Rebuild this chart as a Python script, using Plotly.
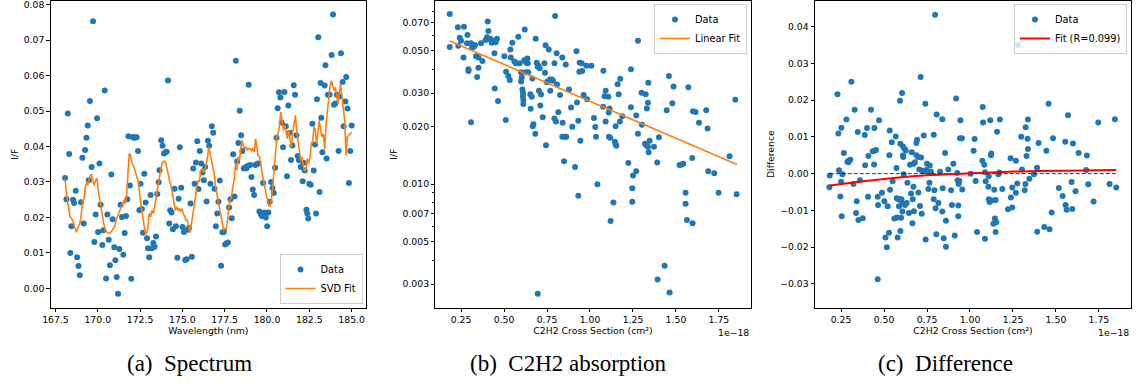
import plotly.graph_objects as go

# ---------------- Panel (a): Spectrum ----------------
wavelength_a = [
    168.07,168.15,168.23,168.31,168.38,168.44,168.54,168.60,168.70,168.78,
    168.86,168.94,169.01,169.09,169.17,169.25,169.33,169.41,169.47,169.54,
    169.64,169.72,169.80,169.88,169.96,170.02,170.10,170.17,170.27,170.33,
    170.41,170.49,170.57,170.65,170.72,170.80,170.88,170.98,171.04,171.12,
    171.20,171.28,171.35,171.43,171.51,171.59,171.67,171.75,171.81,171.90,
    171.98,172.06,172.14,172.22,172.30,172.38,172.46,172.53,172.61,172.67,
    172.75,172.83,172.91,172.97,173.04,173.12,173.20,173.28,173.36,173.44,
    173.52,173.60,173.65,173.75,173.83,173.91,173.99,174.07,174.15,174.22,
    174.28,174.36,174.44,174.54,174.62,174.70,174.78,174.85,174.93,175.01,
    175.09,175.17,175.25,175.33,175.40,175.48,175.56,175.64,175.72,175.80,
    175.88,175.95,176.03,176.11,176.19,176.27,176.35,176.43,176.51,176.58,
    176.66,176.74,176.82,176.90,176.98,177.06,177.13,177.21,177.29,177.37,
    177.45,177.53,177.61,177.69,177.76,177.84,177.92,178.00,178.08,178.16,
    178.24,178.31,178.39,178.47,178.55,178.63,178.71,178.79,178.85,178.92,
    179.00,179.08,179.16,179.24,179.32,179.40,179.47,179.55,179.63,179.69,
    179.77,179.85,179.93,180.01,180.08,180.16,180.24,180.32,180.40,180.48,
    180.56,180.63,180.71,180.79,180.87,180.95,181.03,181.11,181.18,181.26,
    181.34,181.42,181.50,181.58,181.66,181.74,181.81,181.89,181.99,182.11,
    182.15,182.23,182.33,182.38,182.44,182.50,182.58,182.68,182.76,182.84,
    182.90,182.95,183.03,183.11,183.17,183.21,183.27,183.41,183.45,183.52,
    183.60,183.70,183.82,183.90,183.96,184.04,184.13,184.23,184.29,184.37,
    184.47,184.53,184.63,184.68,184.76,184.84,184.92,185.00]
if_a = [
    0.0311,0.0251,0.0493,0.0379,0.0100,0.0175,0.0250,0.0241,0.0275,0.0088,
    0.0063,0.0037,0.0243,0.0368,0.0183,0.0390,0.0425,0.0459,0.0305,0.0528,
    0.0342,0.0753,0.0131,0.0208,0.0480,0.0159,0.0352,0.0236,0.0122,0.0164,
    0.0558,0.0028,0.0208,0.0137,0.0065,0.0321,0.0195,0.0116,0.0079,0.0032,
    -0.0015,0.0111,0.0236,0.0201,0.0095,0.0156,0.0204,0.0251,0.0429,0.0290,
    0.0027,0.0427,0.0425,0.0426,0.0426,0.0387,0.0220,0.0295,0.0224,0.0157,
    0.0323,0.0242,0.0141,0.0113,0.0088,0.0263,0.0113,0.0128,0.0117,0.0146,
    0.0266,0.0299,0.0333,0.0418,0.0402,0.0380,0.0383,0.0385,0.0586,0.0183,
    0.0220,0.0214,0.0167,0.0281,0.0175,0.0086,0.0253,0.0398,0.0284,0.0173,
    0.0159,0.0080,0.0082,0.0165,0.0171,0.0239,0.0089,0.0338,0.0295,0.0355,
    0.0415,0.0280,0.0387,0.0352,0.0327,0.0305,0.0342,0.0245,0.0416,0.0402,
    0.0295,0.0457,0.0439,0.0281,0.0175,0.0211,0.0244,0.0304,0.0064,0.0158,
    0.0159,0.0124,0.0127,0.0129,0.0228,0.0251,0.0198,0.0378,0.0259,0.0642,
    0.0358,0.0410,0.0501,0.0432,0.0387,0.0338,0.0341,0.0339,0.0345,0.0574,
    0.0348,0.0314,0.0279,0.0263,0.0348,0.0351,0.0352,0.0217,0.0210,0.0204,
    0.0297,0.0214,0.0200,0.0175,0.0214,0.0244,0.0300,0.0283,0.0269,0.0340,
    0.0425,0.0508,0.0553,0.0538,0.0467,0.0398,0.0554,0.0457,0.0316,0.0516,
    0.0439,0.0362,0.0403,0.0573,0.0546,0.0432,0.0373,0.0361,0.0342,0.0302,
    0.0354,0.0332,0.0222,0.0211,0.0197,0.0295,0.0292,0.0464,0.0332,0.0406,
    0.0211,0.0533,0.0708,0.0272,0.0579,0.0481,0.0384,0.0572,0.0629,0.0366,
    0.0546,0.0546,0.0658,0.0772,0.0518,0.0521,0.0546,0.0387,0.0542,0.0663,
    0.0582,0.0457,0.0527,0.0596,0.0507,0.0297,0.0387,0.0459]

fit_wl_a = [
    168.07,168.15,168.27,168.37,168.52,168.66,168.74,168.86,168.96,169.03,
    169.11,169.19,169.27,169.35,169.41,169.51,169.62,169.70,169.78,169.88,
    169.96,170.04,170.12,170.19,170.27,170.35,170.45,170.57,170.72,170.88,
    171.00,171.08,171.22,171.35,171.45,171.55,171.63,171.71,171.79,171.86,
    171.94,172.02,172.14,172.26,172.34,172.42,172.49,172.57,172.65,172.73,
    172.81,172.89,172.97,173.04,173.12,173.20,173.28,173.36,173.44,173.52,
    173.60,173.67,173.75,173.83,173.95,174.03,174.11,174.19,174.26,174.34,
    174.42,174.50,174.58,174.66,174.74,174.81,174.89,174.97,175.05,175.15,
    175.21,175.29,175.38,175.46,175.54,175.62,175.70,175.78,175.86,175.94,
    176.01,176.09,176.17,176.25,176.33,176.41,176.49,176.56,176.64,176.72,
    176.80,176.88,176.96,177.04,177.11,177.19,177.27,177.35,177.43,177.51,
    177.59,177.67,177.74,177.82,177.90,177.98,178.06,178.14,178.22,178.29,
    178.37,178.45,178.53,178.61,178.69,178.77,178.85,178.92,179.00,179.08,
    179.16,179.24,179.32,179.40,179.47,179.55,179.63,179.71,179.79,179.87,
    179.95,180.02,180.10,180.18,180.26,180.34,180.42,180.50,180.58,180.65,
    180.73,180.81,180.89,180.97,181.05,181.13,181.20,181.28,181.36,181.44,
    181.52,181.60,181.68,181.75,181.83,181.91,181.99,182.07,182.15,182.23,
    182.31,182.38,182.46,182.54,182.62,182.70,182.78,182.86,182.93,183.01,
    183.09,183.17,183.25,183.33,183.41,183.49,183.56,183.64,183.72,183.80,
    183.88,183.96,184.04,184.11,184.19,184.27,184.35,184.43,184.51,184.59,
    184.67,184.74,184.82,184.90,185.00]
fit_if_a = [
    0.0310,0.0267,0.0230,0.0202,0.0192,0.0174,0.0158,0.0174,0.0187,0.0211,
    0.0249,0.0253,0.0286,0.0300,0.0291,0.0314,0.0322,0.0305,0.0291,0.0305,
    0.0310,0.0272,0.0249,0.0230,0.0202,0.0183,0.0164,0.0157,0.0155,0.0164,
    0.0174,0.0192,0.0211,0.0225,0.0237,0.0249,0.0239,0.0267,0.0324,0.0380,
    0.0375,0.0352,0.0342,0.0324,0.0314,0.0297,0.0258,0.0230,0.0202,0.0174,
    0.0155,0.0155,0.0174,0.0211,0.0202,0.0220,0.0211,0.0230,0.0249,0.0277,
    0.0300,0.0324,0.0342,0.0356,0.0359,0.0352,0.0333,0.0310,0.0300,0.0286,
    0.0267,0.0249,0.0220,0.0230,0.0220,0.0225,0.0216,0.0225,0.0211,0.0202,
    0.0192,0.0192,0.0174,0.0157,0.0183,0.0211,0.0230,0.0263,0.0286,0.0305,
    0.0300,0.0333,0.0338,0.0328,0.0333,0.0352,0.0370,0.0399,0.0380,0.0352,
    0.0342,0.0324,0.0286,0.0267,0.0249,0.0230,0.0211,0.0192,0.0166,0.0169,
    0.0166,0.0192,0.0230,0.0249,0.0258,0.0286,0.0305,0.0352,0.0333,0.0370,
    0.0361,0.0394,0.0417,0.0399,0.0394,0.0399,0.0389,0.0394,0.0394,0.0389,
    0.0394,0.0385,0.0422,0.0399,0.0375,0.0371,0.0356,0.0324,0.0300,0.0286,
    0.0267,0.0249,0.0234,0.0232,0.0249,0.0286,0.0342,0.0389,0.0427,0.0436,
    0.0455,0.0497,0.0474,0.0446,0.0460,0.0436,0.0422,0.0446,0.0427,0.0399,
    0.0441,0.0464,0.0488,0.0446,0.0417,0.0380,0.0361,0.0370,0.0342,0.0331,
    0.0338,0.0366,0.0352,0.0370,0.0408,0.0417,0.0455,0.0446,0.0408,0.0441,
    0.0474,0.0446,0.0427,0.0436,0.0391,0.0464,0.0502,0.0530,0.0567,0.0586,
    0.0572,0.0558,0.0567,0.0549,0.0521,0.0549,0.0577,0.0539,0.0502,0.0474,
    0.0375,0.0427,0.0431,0.0436,0.0440]

# ---------------- Panel (b): C2H2 absorption ----------------
xsec_b = [
    0.184,0.184,0.231,0.267,0.242,0.250,0.234,0.264,0.287,0.285,
    0.308,0.314,0.324,0.331,0.337,0.351,0.366,0.374,0.393,0.401,
    0.405,0.409,0.415,0.421,0.428,0.438,0.452,0.459,0.293,0.293,
    0.351,0.343,0.308,0.444,0.446,0.465,0.502,0.510,0.512,0.525,
    0.533,0.537,0.539,0.548,0.560,0.568,0.583,0.591,0.599,0.599,
    0.603,0.607,0.610,0.610,0.612,0.612,0.618,0.620,0.626,0.630,
    0.636,0.626,0.638,0.641,0.653,0.655,0.661,0.665,0.667,0.671,
    0.684,0.682,0.690,0.696,0.700,0.707,0.703,0.715,0.711,0.725,
    0.735,0.738,0.742,0.750,0.754,0.760,0.769,0.767,0.777,0.785,
    0.744,0.793,0.797,0.793,0.802,0.806,0.808,0.816,0.826,0.839,
    0.841,0.839,0.849,0.855,0.859,0.862,0.878,0.890,0.897,0.913,
    0.921,0.924,0.932,0.932,0.938,0.940,0.944,0.952,0.955,0.696,
    0.963,0.979,0.983,1.008,1.023,1.031,1.035,1.043,1.076,1.078,
    1.085,1.091,1.091,1.107,1.109,1.110,1.114,1.118,1.120,1.136,
    1.145,1.149,1.153,1.149,1.161,1.167,1.174,1.176,1.188,1.223,
    1.238,1.238,1.246,1.246,1.250,1.269,1.269,1.279,1.279,1.300,
    1.302,1.320,1.324,1.328,1.331,1.337,1.337,1.339,1.347,1.341,
    1.372,1.391,1.393,1.401,1.434,1.446,1.459,1.463,1.479,1.486,
    1.521,1.533,1.543,1.556,1.556,1.564,1.572,1.595,1.599,1.614,
    1.634,1.676,1.684,1.688,1.723,1.748,1.812,1.845,1.853,1.597]
if_b = [
    0.0777,0.0522,0.0662,0.0667,0.0584,0.0563,0.0531,0.0461,0.0603,0.0546,
    0.0546,0.0520,0.0524,0.0535,0.0468,0.0461,0.0546,0.0441,0.0568,0.0587,
    0.0711,0.0633,0.0573,0.0577,0.0550,0.0561,0.0554,0.0577,0.0400,0.0391,
    0.0407,0.0364,0.0211,0.0484,0.0317,0.0273,0.0468,0.0217,0.0388,0.0368,
    0.0351,0.0507,0.0461,0.0550,0.0439,0.0429,0.0591,0.0429,0.0386,0.0345,
    0.0362,0.0313,0.0301,0.0289,0.0276,0.0263,0.0446,0.0646,0.0443,0.0432,
    0.0455,0.0386,0.0429,0.0385,0.0296,0.0248,0.0287,0.0358,0.0201,0.0206,
    0.0577,0.0184,0.0432,0.0412,0.0417,0.0405,0.0308,0.0295,0.0258,0.0224,
    0.0429,0.0383,0.0533,0.0342,0.0345,0.0507,0.0308,0.0353,0.0353,0.0348,
    0.0160,0.0429,0.0759,0.0221,0.0213,0.0484,0.0333,0.0238,0.0293,0.0461,
    0.0210,0.0177,0.0132,0.0177,0.0423,0.0177,0.0313,0.0252,0.0200,0.0123,
    0.0497,0.0268,0.0215,0.0087,0.0388,0.0432,0.0169,0.0429,0.0391,0.00267,
    0.0293,0.0417,0.0278,0.0417,0.0222,0.0199,0.0177,0.0100,0.0254,0.0393,
    0.0289,0.0308,0.0213,0.0287,0.0237,0.0177,0.0249,0.0175,0.00643,0.00802,
    0.0167,0.0162,0.0159,0.0201,0.0334,0.0296,0.0213,0.0356,0.0227,0.0129,
    0.0400,0.0253,0.00954,0.00809,0.0111,0.0229,0.0117,0.0563,0.0184,0.0301,
    0.0205,0.0163,0.0296,0.0160,0.0249,0.0267,0.0157,0.0340,0.0169,0.0147,
    0.0157,0.0130,0.00317,0.0176,0.00375,0.0244,0.0368,0.00271,0.0265,0.0325,
    0.0126,0.0127,0.0128,0.00902,0.0079,0.00649,0.0322,0.0137,0.0241,0.0239,
    0.0210,0.0244,0.0196,0.0117,0.0114,0.00902,0.0140,0.0277,0.00887,0.00625]
fit_xsec_b = [0.184, 1.855]
fit_if_b = [0.0561, 0.01269]

# ---------------- Panel (c): Difference ----------------
xsec_c = [
    0.184,0.182,0.229,0.234,0.238,0.250,0.246,0.254,0.258,0.252,
    0.266,0.281,0.287,0.297,0.304,0.293,0.310,0.322,0.329,0.337,
    0.341,0.347,0.351,0.360,0.376,0.388,0.390,0.401,0.407,0.409,
    0.424,0.434,0.444,0.442,0.448,0.453,0.463,0.465,0.463,0.471,
    0.488,0.502,0.508,0.516,0.521,0.529,0.531,0.535,0.533,0.545,
    0.550,0.560,0.568,0.572,0.574,0.576,0.579,0.585,0.587,0.589,
    0.593,0.595,0.595,0.599,0.601,0.603,0.607,0.605,0.610,0.610,
    0.614,0.612,0.618,0.622,0.626,0.632,0.636,0.645,0.651,0.657,
    0.661,0.665,0.667,0.671,0.672,0.674,0.680,0.688,0.688,0.692,
    0.698,0.700,0.705,0.709,0.713,0.715,0.719,0.725,0.731,0.736,
    0.740,0.742,0.746,0.750,0.758,0.764,0.766,0.773,0.789,0.789,
    0.793,0.797,0.800,0.804,0.806,0.816,0.826,0.839,0.839,0.841,
    0.847,0.855,0.860,0.860,0.874,0.890,0.895,0.903,0.911,0.919,
    0.926,0.928,0.932,0.932,0.934,0.938,0.944,0.942,0.953,0.955,
    1.004,1.021,1.027,1.033,1.041,1.074,1.076,1.072,1.083,1.087,
    1.087,1.091,1.107,1.109,1.110,1.114,1.118,1.122,1.124,1.126,
    1.136,1.141,1.145,1.149,1.149,1.153,1.157,1.165,1.171,1.174,
    1.188,1.221,1.236,1.238,1.246,1.246,1.267,1.267,1.275,1.279,
    1.298,1.302,1.318,1.322,1.329,1.324,1.335,1.337,1.337,1.345,
    1.372,1.390,1.391,1.399,1.432,1.444,1.457,1.463,1.475,1.483,
    1.517,1.539,1.554,1.556,1.562,1.570,1.591,1.599,1.595,1.614,
    1.632,1.676,1.680,1.688,1.719,1.746,1.812,1.843,1.851]
diff_c = [
    -0.0005,-0.0037,0.0216,0.0109,0.0009,-0.0022,-0.0062,-0.0116,-0.0002,0.0125,
    0.0056,0.0147,0.0032,0.0036,0.0038,0.0031,0.0250,-0.0028,0.0174,-0.0107,
    -0.0075,0.0113,-0.0126,-0.0018,-0.0121,0.0105,0.0023,0.0124,-0.0063,0.0048,
    0.0174,0.0061,0.0124,0.0025,0.0063,0.0064,-0.0063,-0.0085,-0.0287,0.0145,
    -0.0052,-0.0075,-0.0174,-0.0200,-0.0089,-0.0161,0.0050,-0.0044,0.0117,0.0085,
    -0.0021,-0.0122,0.0101,0.0015,-0.0067,-0.0119,-0.0174,-0.0070,-0.0089,-0.0069,
    0.0198,0.0081,-0.0156,-0.0120,-0.0070,-0.0079,-0.0103,0.0219,0.0074,0.0049,
    -0.0002,0.0045,0.0068,-0.0085,0.0063,-0.0080,-0.0025,-0.0107,0.0024,-0.0054,
    0.0058,-0.0135,-0.0070,-0.0036,0.0027,-0.0102,0.0031,0.0083,0.0050,0.0092,
    0.0045,-0.0051,0.0011,-0.0088,0.0263,0.0044,-0.0109,0.0008,0.0104,0.0007,
    0.0190,-0.0179,0.0010,0.0027,-0.0042,-0.0025,0.0022,0.0005,0.0106,-0.0070,
    -0.0045,0.0432,-0.0094,-0.0165,0.0161,-0.0080,0.0005,0.0148,-0.0103,-0.0040,
    -0.0176,0.0056,-0.0128,-0.0199,0.0011,-0.0045,-0.0085,0.0027,-0.0168,0.0204,
    0.0002,-0.0018,-0.0087,-0.0116,-0.0028,-0.0020,0.0145,0.0096,0.0096,-0.0043,
    0.0000,0.0062,0.0094,-0.0020,-0.0159,0.0181,0.0139,0.0035,0.0024,-0.0177,
    0.0004,-0.0021,-0.0036,-0.0007,-0.0070,-0.0077,0.0145,0.0050,0.0055,-0.0073,
    -0.0136,-0.0044,-0.0122,-0.0072,-0.0159,-0.0132,0.0114,-0.0002,0.0003,0.0147,
    -0.0042,-0.0097,0.0042,-0.0065,-0.0038,-0.0092,0.0035,-0.0052,-0.0027,0.0350,
    0.0100,0.0011,-0.0045,-0.0028,0.0048,0.0126,0.0095,0.0147,0.0067,-0.0014,
    -0.0002,0.0016,-0.0158,0.0083,-0.0145,0.0062,0.0190,-0.0151,-0.0106,0.0096,
    -0.0039,-0.0061,0.0087,-0.0085,-0.0098,0.0159,-0.0023,0.0082,-0.0096,-0.0048,
    0.0056,0.0010,0.0049,-0.0029,-0.0076,0.0139,-0.0028,0.0148,-0.0038]
fit_xsec_c = [0.184, 0.378, 0.572, 0.766, 1.043, 1.300, 1.550, 1.851]
fit_diff_c = [-0.0032, -0.0021, -0.0011, -0.0004, 0.0002, 0.0006, 0.0008, 0.0010]
zero_x_c = [0.184, 1.851]
zero_y_c = [0.0, 0.0]

# ---------------- Figure ----------------
BLUE = "#1f77b4"
ORANGE = "#ff7f0e"
FONT = "DejaVu Sans"
FS = 9.3

fig = go.Figure()

fig.add_trace(go.Scatter(x=wavelength_a, y=if_a, mode="markers", name="Data",
                         marker=dict(color=BLUE, size=6), xaxis="x", yaxis="y",
                         legend="legend"))
fig.add_trace(go.Scatter(x=fit_wl_a, y=fit_if_a, mode="lines", name="SVD Fit",
                         line=dict(color=ORANGE, width=1.6), xaxis="x", yaxis="y",
                         legend="legend"))

fig.add_trace(go.Scatter(x=xsec_b, y=if_b, mode="markers", name="Data",
                         marker=dict(color=BLUE, size=6), xaxis="x2", yaxis="y2",
                         legend="legend2"))
fig.add_trace(go.Scatter(x=fit_xsec_b, y=fit_if_b, mode="lines", name="Linear Fit",
                         line=dict(color=ORANGE, width=1.6), xaxis="x2", yaxis="y2",
                         legend="legend2"))

fig.add_trace(go.Scatter(x=xsec_c, y=diff_c, mode="markers", name="Data",
                         marker=dict(color=BLUE, size=6), xaxis="x3", yaxis="y3",
                         legend="legend3"))
fig.add_trace(go.Scatter(x=zero_x_c, y=zero_y_c, mode="lines", showlegend=False,
                         line=dict(color="black", width=0.8, dash="4px,2px"),
                         xaxis="x3", yaxis="y3"))
fig.add_trace(go.Scatter(x=fit_xsec_c, y=fit_diff_c, mode="lines", name="Fit (R=0.099)",
                         line=dict(color="red", width=2, shape="spline"),
                         xaxis="x3", yaxis="y3", legend="legend3"))

W, H = 1136, 385
ydom = [(H - 307.5) / H, 0.998]

def axis(**kw):
    base = dict(showline=True, linecolor="black", linewidth=1, mirror=True,
                ticks="outside", ticklen=3.5, tickwidth=1, tickcolor="black",
                showgrid=False, zeroline=False, automargin=False,
                ticklabeloverflow="allow",
                tickfont=dict(family=FONT, size=FS, color="black"),
                title=dict(font=dict(family=FONT, size=FS, color="black"), standoff=3))
    base.update(kw)
    return base

xticks_a = [167.5, 170.0, 172.5, 175.0, 177.5, 180.0, 182.5, 185.0]
yticks_a = [0.00, 0.01, 0.02, 0.03, 0.04, 0.05, 0.06, 0.07, 0.08]
xticks_bc = [0.25, 0.50, 0.75, 1.00, 1.25, 1.50, 1.75]
yticks_b = [0.003, 0.005, 0.007, 0.010, 0.020, 0.030, 0.050, 0.070]
yminor_b = [0.004, 0.006, 0.008, 0.009, 0.04, 0.06, 0.08]
yticks_c = [-0.03, -0.02, -0.01, 0.00, 0.01, 0.02, 0.03, 0.04]

def fmt(v, n):
    s = f"{v:.{n}f}"
    return s.replace("-", "\u2212")

fig.update_layout(
    width=W, height=H, margin=dict(l=0, r=0, t=0, b=0),
    paper_bgcolor="white", plot_bgcolor="white",
    font=dict(family=FONT, size=FS, color="black"),
    xaxis=axis(domain=[50.7 / W, 366 / W], anchor="y", range=[167.22, 185.85],
               tickvals=xticks_a, ticktext=[fmt(v, 1) for v in xticks_a],
               title_text="Wavelength (nm)"),
    yaxis=axis(domain=ydom, anchor="x", range=[-0.0054, 0.0811],
               tickvals=yticks_a, ticktext=[fmt(v, 2) for v in yticks_a],
               title_text="I/F"),
    xaxis2=axis(domain=[435 / W, 751 / W], anchor="y2", range=[0.0984, 1.9366],
                tickvals=xticks_bc, ticktext=[fmt(v, 2) for v in xticks_bc],
                title_text="C2H2 Cross Section (cm\u00b2)"),
    yaxis2=axis(domain=ydom, anchor="x2", type="log", range=[-2.645, -1.040],
                tickvals=yticks_b, ticktext=[fmt(v, 3) for v in yticks_b],
                ticklen=3,
                minor=dict(tickmode="array", tickvals=yminor_b, ticks="outside",
                           ticklen=2, tickcolor="black", tickwidth=0.8, showgrid=False),
                title_text="I/F"),
    xaxis3=axis(domain=[815 / W, 1131 / W], anchor="y3", range=[0.0984, 1.9366],
                tickvals=xticks_bc, ticktext=[fmt(v, 2) for v in xticks_bc],
                title_text="C2H2 Cross Section (cm\u00b2)"),
    yaxis3=axis(domain=ydom, anchor="x3", range=[-0.0364, 0.0470],
                tickvals=yticks_c, ticktext=[fmt(v, 2) for v in yticks_c],
                title_text="Difference"),
    legend=dict(x=362.5 / W, y=(H - 304) / H, xanchor="right", yanchor="bottom",
                bgcolor="rgba(255,255,255,0.8)", bordercolor="#cccccc", borderwidth=1,
                font=dict(family=FONT, size=9.8), itemwidth=30, tracegroupgap=0),
    legend2=dict(x=747 / W, y=(H - 4) / H, xanchor="right", yanchor="top",
                 bgcolor="rgba(255,255,255,0.8)", bordercolor="#cccccc", borderwidth=1,
                 font=dict(family=FONT, size=9.8), itemwidth=30, tracegroupgap=0),
    legend3=dict(x=1127 / W, y=(H - 4) / H, xanchor="right", yanchor="top",
                 bgcolor="rgba(255,255,255,0.8)", bordercolor="#cccccc", borderwidth=1,
                 font=dict(family=FONT, size=9.8), itemwidth=30, tracegroupgap=0),
)

annotations = [
    dict(text="1e\u221218", x=751 / W, y=(H - 332) / H, xref="paper", yref="paper",
         xanchor="right", yanchor="middle", showarrow=False,
         font=dict(family=FONT, size=FS, color="black")),
    dict(text="1e\u221218", x=1131 / W, y=(H - 332) / H, xref="paper", yref="paper",
         xanchor="right", yanchor="middle", showarrow=False,
         font=dict(family=FONT, size=FS, color="black")),
]
captions = ["(a)\u00a0 Spectrum", "(b)\u00a0 C2H2 absorption", "(c)\u00a0 Difference"]
cap_x = [189.5, 568.5, 945.0]
for t, cx in zip(captions, cap_x):
    annotations.append(dict(text=t, x=cx / W, y=(H - 363) / H, xref="paper", yref="paper",
                            xanchor="center", yanchor="middle", showarrow=False,
                            font=dict(family="Liberation Serif", size=23, color="black")))
fig.update_layout(annotations=annotations)

fig.write_html("out.html")
